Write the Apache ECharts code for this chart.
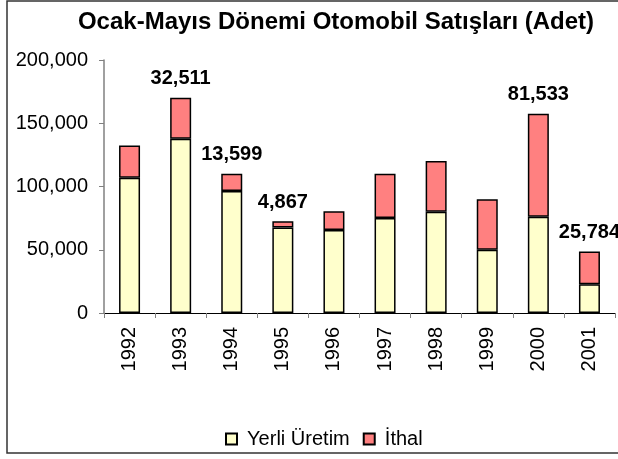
<!DOCTYPE html>
<html>
<head>
<meta charset="utf-8">
<script src="https://cdn.jsdelivr.net/npm/echarts@6/dist/echarts.min.js"></script>
<style>
  html, body { margin: 0; padding: 0; background: #fff; }
  #main { width: 618px; height: 459px; }
</style>
</head>
<body>
<div id="main"></div>
<script>
// yıllar ve değerler
var years = ['1992', '1993', '1994', '1995', '1996', '1997', '1998', '1999', '2000', '2001'];
var yerliUretim = [107000, 137700, 96500, 67600, 65600, 75100, 80100, 50000, 76000, 22800];
var ithal = [25500, 32511, 13599, 4867, 14800, 35000, 40100, 39900, 81533, 25784];
// etiketi gösterilen yıllar
var labelYears = ['1993', '1994', '1995', '2000', '2001'];

var font = 'Liberation Sans, Arial, sans-serif';
var renkYerli = '#FFFFCC';
var renkIthal = '#FF8080';

function kutu(renk) {
  return { width: 9, height: 9, backgroundColor: renk, borderColor: '#000', borderWidth: 2 };
}

var chart = echarts.init(document.getElementById('main'));
chart.setOption({
  animation: false,
  title: {
    text: 'Ocak-Mayıs Dönemi Otomobil Satışları (Adet)',
    left: 331,
    textAlign: 'center',
    top: 5,
    textStyle: { fontFamily: font, fontSize: 24, fontWeight: 'bold', color: '#000' }
  },
  graphic: [{
    type: 'rect',
    shape: { x: 7, y: 1, width: 640, height: 452 },
    style: { fill: 'none', stroke: '#333', lineWidth: 1.5 },
    silent: true
  }],
  legend: {
    data: ['Yerli Üretim', 'İthal'],
    left: 216,
    top: 424,
    itemWidth: 0,
    itemHeight: 0,
    itemGap: 9,
    formatter: function (name) {
      return (name === 'İthal' ? '{i|}' : '{y|}') + '{t|  ' + name + '}';
    },
    textStyle: {
      fontFamily: font, fontSize: 20, color: '#000',
      rich: {
        y: kutu(renkYerli),
        i: kutu(renkIthal),
        t: { fontFamily: font, fontSize: 20, color: '#000' }
      }
    }
  },
  grid: { left: 104, right: 3, top: 60, bottom: 146 },
  xAxis: {
    type: 'category',
    data: years,
    axisLine: { lineStyle: { color: '#000', width: 1 } },
    axisTick: { show: true, length: 5, lineStyle: { color: '#808080' } },
    axisLabel: { rotate: 90, margin: 14, fontFamily: font, fontSize: 20, color: '#000' }
  },
  yAxis: {
    type: 'value',
    min: 0,
    max: 200000,
    interval: 50000,
    splitLine: { show: false },
    axisLine: { show: true, lineStyle: { color: '#808080', width: 1.5 } },
    axisTick: { show: true, length: 5, lineStyle: { color: '#808080' } },
    axisLabel: {
      margin: 16,
      fontFamily: font,
      fontSize: 20,
      color: '#000',
      formatter: function (v) { return v.toLocaleString('en-US'); }
    }
  },
  series: [{
    name: 'Yerli Üretim',
    type: 'bar',
    stack: 'toplam',
    barWidth: 21,
    data: yerliUretim,
    itemStyle: { color: renkYerli, borderColor: '#000', borderWidth: 1.5 }
  }, {
    name: 'İthal',
    type: 'bar',
    stack: 'toplam',
    barWidth: 21,
    data: ithal.map(function (v, i) {
      return {
        value: v,
        label: { show: labelYears.indexOf(years[i]) >= 0 }
      };
    }),
    itemStyle: { color: renkIthal, borderColor: '#000', borderWidth: 1.5 },
    label: {
      position: 'top',
      distance: 9,
      fontFamily: font,
      fontSize: 20,
      fontWeight: 'bold',
      color: '#000',
      formatter: function (p) { return p.value.toLocaleString('en-US'); }
    }
  }]
});
</script>
</body>
</html>
